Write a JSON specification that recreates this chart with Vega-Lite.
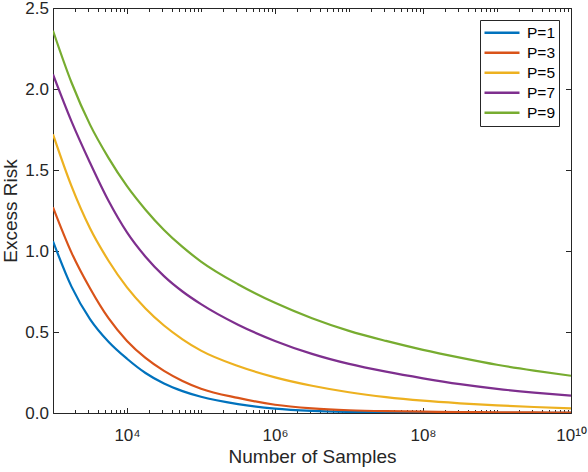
{
  "$schema": "https://vega.github.io/schema/vega-lite/v6.json",
  "autosize": "none",
  "width": 518,
  "height": 405,
  "padding": {"left": 53, "top": 8, "right": 17, "bottom": 59},
  "background": "white",
  "data": {"values": [
    {"n": 1000, "risk": 1.06, "P": "P=1"},
    {"n": 1778.28, "risk": 0.78, "P": "P=1"},
    {"n": 3162.28, "risk": 0.58, "P": "P=1"},
    {"n": 5623.41, "risk": 0.44, "P": "P=1"},
    {"n": 10000, "risk": 0.335, "P": "P=1"},
    {"n": 17782.8, "risk": 0.247, "P": "P=1"},
    {"n": 31622.8, "risk": 0.182, "P": "P=1"},
    {"n": 56234.1, "risk": 0.135, "P": "P=1"},
    {"n": 100000, "risk": 0.1, "P": "P=1"},
    {"n": 316228, "risk": 0.055, "P": "P=1"},
    {"n": 1000000, "risk": 0.027, "P": "P=1"},
    {"n": 3162278, "risk": 0.013, "P": "P=1"},
    {"n": 10000000, "risk": 0.0065, "P": "P=1"},
    {"n": 31622777, "risk": 0.0035, "P": "P=1"},
    {"n": 100000000, "risk": 0.002, "P": "P=1"},
    {"n": 316227766, "risk": 0.0012, "P": "P=1"},
    {"n": 1000000000, "risk": 0.0008, "P": "P=1"},
    {"n": 3162277660, "risk": 0.0005, "P": "P=1"},
    {"n": 10000000000, "risk": 0.0003, "P": "P=1"},
    {"n": 1000, "risk": 1.27, "P": "P=3"},
    {"n": 1778.28, "risk": 0.99, "P": "P=3"},
    {"n": 3162.28, "risk": 0.77, "P": "P=3"},
    {"n": 5623.41, "risk": 0.585, "P": "P=3"},
    {"n": 10000, "risk": 0.445, "P": "P=3"},
    {"n": 17782.8, "risk": 0.34, "P": "P=3"},
    {"n": 31622.8, "risk": 0.26, "P": "P=3"},
    {"n": 56234.1, "risk": 0.198, "P": "P=3"},
    {"n": 100000, "risk": 0.15, "P": "P=3"},
    {"n": 316228, "risk": 0.093, "P": "P=3"},
    {"n": 1000000, "risk": 0.051, "P": "P=3"},
    {"n": 3162278, "risk": 0.029, "P": "P=3"},
    {"n": 10000000, "risk": 0.017, "P": "P=3"},
    {"n": 31622777, "risk": 0.011, "P": "P=3"},
    {"n": 100000000, "risk": 0.008, "P": "P=3"},
    {"n": 316227766, "risk": 0.006, "P": "P=3"},
    {"n": 1000000000, "risk": 0.0045, "P": "P=3"},
    {"n": 3162277660, "risk": 0.0033, "P": "P=3"},
    {"n": 10000000000, "risk": 0.0025, "P": "P=3"},
    {"n": 1000, "risk": 1.72, "P": "P=5"},
    {"n": 1778.28, "risk": 1.4, "P": "P=5"},
    {"n": 3162.28, "risk": 1.14, "P": "P=5"},
    {"n": 5623.41, "risk": 0.94, "P": "P=5"},
    {"n": 10000, "risk": 0.775, "P": "P=5"},
    {"n": 17782.8, "risk": 0.645, "P": "P=5"},
    {"n": 31622.8, "risk": 0.54, "P": "P=5"},
    {"n": 56234.1, "risk": 0.455, "P": "P=5"},
    {"n": 100000, "risk": 0.385, "P": "P=5"},
    {"n": 316228, "risk": 0.29, "P": "P=5"},
    {"n": 1000000, "risk": 0.22, "P": "P=5"},
    {"n": 3162278, "risk": 0.168, "P": "P=5"},
    {"n": 10000000, "risk": 0.128, "P": "P=5"},
    {"n": 31622777, "risk": 0.098, "P": "P=5"},
    {"n": 100000000, "risk": 0.076, "P": "P=5"},
    {"n": 316227766, "risk": 0.06, "P": "P=5"},
    {"n": 1000000000, "risk": 0.047, "P": "P=5"},
    {"n": 3162277660, "risk": 0.037, "P": "P=5"},
    {"n": 10000000000, "risk": 0.029, "P": "P=5"},
    {"n": 1000, "risk": 2.09, "P": "P=7"},
    {"n": 1778.28, "risk": 1.8, "P": "P=7"},
    {"n": 3162.28, "risk": 1.545, "P": "P=7"},
    {"n": 5623.41, "risk": 1.31, "P": "P=7"},
    {"n": 10000, "risk": 1.115, "P": "P=7"},
    {"n": 17782.8, "risk": 0.965, "P": "P=7"},
    {"n": 31622.8, "risk": 0.845, "P": "P=7"},
    {"n": 56234.1, "risk": 0.75, "P": "P=7"},
    {"n": 100000, "risk": 0.672, "P": "P=7"},
    {"n": 316228, "risk": 0.545, "P": "P=7"},
    {"n": 1000000, "risk": 0.445, "P": "P=7"},
    {"n": 3162278, "risk": 0.365, "P": "P=7"},
    {"n": 10000000, "risk": 0.303, "P": "P=7"},
    {"n": 31622777, "risk": 0.255, "P": "P=7"},
    {"n": 100000000, "risk": 0.214, "P": "P=7"},
    {"n": 316227766, "risk": 0.178, "P": "P=7"},
    {"n": 1000000000, "risk": 0.149, "P": "P=7"},
    {"n": 3162277660, "risk": 0.126, "P": "P=7"},
    {"n": 10000000000, "risk": 0.107, "P": "P=7"},
    {"n": 1000, "risk": 2.36, "P": "P=9"},
    {"n": 1778.28, "risk": 2.04, "P": "P=9"},
    {"n": 3162.28, "risk": 1.78, "P": "P=9"},
    {"n": 5623.41, "risk": 1.575, "P": "P=9"},
    {"n": 10000, "risk": 1.4, "P": "P=9"},
    {"n": 17782.8, "risk": 1.255, "P": "P=9"},
    {"n": 31622.8, "risk": 1.13, "P": "P=9"},
    {"n": 56234.1, "risk": 1.025, "P": "P=9"},
    {"n": 100000, "risk": 0.935, "P": "P=9"},
    {"n": 316228, "risk": 0.795, "P": "P=9"},
    {"n": 1000000, "risk": 0.68, "P": "P=9"},
    {"n": 3162278, "risk": 0.585, "P": "P=9"},
    {"n": 10000000, "risk": 0.507, "P": "P=9"},
    {"n": 31622777, "risk": 0.445, "P": "P=9"},
    {"n": 100000000, "risk": 0.39, "P": "P=9"},
    {"n": 316227766, "risk": 0.342, "P": "P=9"},
    {"n": 1000000000, "risk": 0.298, "P": "P=9"},
    {"n": 3162277660, "risk": 0.262, "P": "P=9"},
    {"n": 10000000000, "risk": 0.23, "P": "P=9"}
  ]},
  "layer": [
    {
      "mark": {"type": "line", "strokeWidth": 2.2, "interpolate": "monotone", "clip": true},
      "encoding": {
        "x": {
          "field": "n", "type": "quantitative",
          "scale": {"type": "log", "domain": [1000, 10000000000], "nice": false},
          "axis": {
            "orient": "bottom",
            "title": "Number of Samples",
            "values": [1000,2000,3000,4000,5000,6000,7000,8000,9000,10000,20000,30000,40000,50000,60000,70000,80000,90000,100000,200000,300000,400000,500000,600000,700000,800000,900000,1000000,2000000,3000000,4000000,5000000,6000000,7000000,8000000,9000000,10000000,20000000,30000000,40000000,50000000,60000000,70000000,80000000,90000000,100000000,200000000,300000000,400000000,500000000,600000000,700000000,800000000,900000000,1000000000,2000000000,3000000000,4000000000,5000000000,6000000000,7000000000,8000000000,9000000000,10000000000],
            "labelExpr": "datum.value == 10000 ? '10⁴' : datum.value == 1000000 ? '10⁶' : datum.value == 100000000 ? '10⁸' : datum.value == 10000000000 ? '10¹⁰' : ''",
            "tickSize": {"condition": {"test": "datum.value == 10000 || datum.value == 1000000 || datum.value == 100000000 || datum.value == 10000000000", "value": -5.5}, "value": -3.5},
            "labelPadding": 20,
            "labelFlush": false,
            "labelOverlap": false,
            "labelBound": false,
            "titlePadding": 2
          }
        },
        "y": {
          "field": "risk", "type": "quantitative",
          "scale": {"domain": [0, 2.5], "nice": false, "zero": false},
          "axis": {
            "orient": "left",
            "title": "Excess Risk",
            "values": [0, 0.5, 1, 1.5, 2, 2.5],
            "tickSize": -5.5,
            "labelPadding": 10,
            "labelFlush": false,
            "labelOverlap": false,
            "labelBound": false,
            "titlePadding": 4
          }
        },
        "color": {
          "field": "P", "type": "nominal",
          "scale": {"domain": ["P=1", "P=3", "P=5", "P=7", "P=9"], "range": ["#0072BD", "#D95319", "#EDB120", "#7E2F8E", "#77AC30"]},
          "legend": {"title": null}
        }
      }
    },
    {
      "mark": {"type": "line", "strokeOpacity": 0},
      "encoding": {
        "x": {
          "field": "n", "type": "quantitative",
          "scale": {"type": "log", "domain": [1000, 10000000000], "nice": false},
          "axis": {
            "orient": "top",
            "title": null,
            "labels": false,
            "values": [1000,2000,3000,4000,5000,6000,7000,8000,9000,10000,20000,30000,40000,50000,60000,70000,80000,90000,100000,200000,300000,400000,500000,600000,700000,800000,900000,1000000,2000000,3000000,4000000,5000000,6000000,7000000,8000000,9000000,10000000,20000000,30000000,40000000,50000000,60000000,70000000,80000000,90000000,100000000,200000000,300000000,400000000,500000000,600000000,700000000,800000000,900000000,1000000000,2000000000,3000000000,4000000000,5000000000,6000000000,7000000000,8000000000,9000000000,10000000000],
            "tickSize": {"condition": {"test": "datum.value == 10000 || datum.value == 1000000 || datum.value == 100000000 || datum.value == 10000000000", "value": -5.5}, "value": -3.5}
          }
        },
        "y": {
          "field": "risk", "type": "quantitative",
          "scale": {"domain": [0, 2.5], "nice": false, "zero": false},
          "axis": {
            "orient": "right",
            "title": null,
            "labels": false,
            "values": [0, 0.5, 1, 1.5, 2, 2.5],
            "tickSize": -5.5
          }
        }
      }
    }
  ],
  "resolve": {"axis": {"x": "independent", "y": "independent"}},
  "config": {
    "view": {"stroke": null},
    "axis": {
      "grid": false,
      "domainColor": "#262626",
      "domainWidth": 1,
      "tickColor": "#262626",
      "tickWidth": 1,
      "labelColor": "#262626",
      "titleColor": "#262626",
      "labelFont": "Liberation Sans",
      "titleFont": "Liberation Sans",
      "labelFontSize": 17,
      "titleFontSize": 19,
      "titleFontWeight": "normal"
    },
    "legend": {
      "orient": "top-right",
      "offset": 12,
      "padding": 3,
      "strokeColor": "#262626",
      "fillColor": "white",
      "symbolType": "stroke",
      "symbolSize": 1225,
      "symbolStrokeWidth": 2.5,
      "clipHeight": 19.5,
      "rowPadding": 0,
      "labelOffset": 6,
      "labelFont": "Liberation Sans",
      "labelFontSize": 15.5,
      "labelColor": "#000000"
    }
  }
}
